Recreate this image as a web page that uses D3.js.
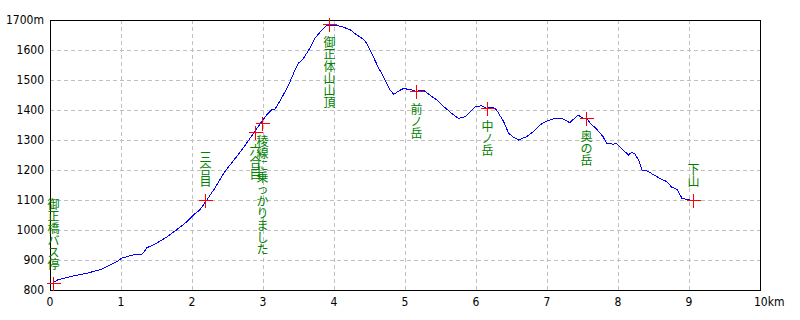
<!DOCTYPE html>
<html><head><meta charset="utf-8">
<script src="https://cdn.jsdelivr.net/npm/d3@7/dist/d3.min.js"></script>
<style>
body{margin:0;background:#fff;}
svg{display:block;}
.num{font-family:"Liberation Sans Narrow","DejaVu Sans Condensed","Liberation Sans",sans-serif;font-size:12px;fill:#000;}
.lbl{font-family:"Noto Sans CJK JP",sans-serif;font-size:12px;fill:#008000;}
</style></head>
<body><svg id="c" width="800" height="320"></svg>
<script>
// profile: distance (km) and elevation (m)
const distKm = [0.03,0.1,0.19,0.35,0.52,0.7,0.82,0.94,1.01,1.17,1.29,1.33,1.36,1.5,1.64,1.78,1.93,2.02,2.11,2.21,
  2.32,2.46,2.61,2.75,2.89,2.98,3.05,3.12,3.17,3.26,3.36,3.45,3.50,3.57,3.66,3.73,3.83,3.90,4.01,4.11,
  4.23,4.32,4.41,4.46,4.53,4.62,4.72,4.79,4.84,4.91,4.98,5.02,5.09,5.16,5.21,5.28,5.35,5.45,5.52,5.63,
  5.75,5.85,5.92,5.99,6.08,6.15,6.24,6.29,6.39,6.46,6.53,6.60,6.71,6.81,6.90,7.00,7.09,7.21,7.32,7.44,
  7.51,7.56,7.61,7.70,7.79,7.84,7.93,7.98,8.07,8.15,8.19,8.24,8.29,8.34,8.41,8.51,8.59,8.69,8.76,8.83,
  8.90,8.97,9.01];
const elevM = [822,833,839,848,856,867,880,894,906,917,919,928,940,956,976,1000,1028,1050,1067,1100,
  1139,1194,1239,1283,1330,1361,1383,1400,1403,1439,1483,1533,1556,1572,1606,1639,1667,1683,1683,1678,
  1667,1650,1637,1622,1589,1544,1500,1467,1452,1463,1472,1470,1467,1461,1467,1463,1450,1433,1417,1394,
  1372,1378,1394,1411,1414,1406,1410,1400,1361,1322,1309,1300,1311,1328,1350,1364,1370,1372,1358,1383,
  1372,1372,1356,1336,1311,1289,1286,1289,1267,1250,1259,1253,1233,1200,1197,1183,1172,1161,1142,1136,
  1106,1102,1100];

// waypoints
const markerNames = ["御正橋バス停","三合目","六合目","稜線に乗っかりました","御正体山山頂","前ノ岳","中ノ岳","奥の岳","下山"];
const markerKm   = [0.04,2.18,2.89,2.99,3.93,5.16,6.15,7.55,9.05];
const markerElev = [822,1100,1327,1357,1686,1464,1406,1372,1100];
const markerSide = ["above","above","below","below","below","below","below","below","above"];

// ticks
const xTicks = [0,1,2,3,4,5,6,7,8,9,10];
const yTicks = [800,900,1000,1100,1200,1300,1400,1500,1600,1700];

const svg = d3.select("#c");
svg.append("rect").attr("width",800).attr("height",320).attr("fill","#fff");
const L=50,R=760,T=20,B=290;
const x = d3.scaleLinear().domain([0,10]).range([L,R]);
const y = d3.scaleLinear().domain([800,1700]).range([B,T]);

// grid
const g = svg.append("g").attr("shape-rendering","crispEdges");
g.selectAll(".vg").data(xTicks.filter(d=>d>0&&d<10)).enter().append("line")
  .attr("x1",d=>x(d)+0.5).attr("x2",d=>x(d)+0.5).attr("y1",T).attr("y2",B)
  .attr("stroke","#c0c0c0").attr("stroke-dasharray","4,3");
g.selectAll(".hg").data(yTicks.filter(d=>d>800&&d<1700)).enter().append("line")
  .attr("y1",d=>y(d)+0.5).attr("y2",d=>y(d)+0.5).attr("x1",L).attr("x2",R)
  .attr("stroke","#c0c0c0").attr("stroke-dasharray","4,3");
g.append("rect").attr("x",L+0.5).attr("y",T+0.5).attr("width",R-L).attr("height",B-T)
  .attr("fill","none").attr("stroke","#000");

// axis labels
svg.selectAll(".yl").data(yTicks).enter().append("text").attr("class","num")
  .attr("x",44).attr("y",d=>y(d)+4).attr("text-anchor","end")
  .text(d=>d===1700? d+"m" : d);
svg.selectAll(".xl").data(xTicks).enter().append("text").attr("class","num")
  .attr("x",d=>d===10? x(d)-6 : x(d)).attr("y",306).attr("text-anchor",d=>d===10?"start":"middle")
  .text(d=>d===10? d+"km" : d);

// profile line
const pts = distKm.map((d,i)=>[d,elevM[i]]);
svg.append("path").datum(pts)
  .attr("d",d3.line().x(d=>x(d[0])).y(d=>y(d[1])))
  .attr("fill","none").attr("stroke","#0000ff").attr("stroke-width",1)
  .attr("shape-rendering","crispEdges");

// markers
const mk = svg.append("g").attr("shape-rendering","crispEdges");
markerNames.forEach((name,i)=>{
  const cx=Math.round(x(markerKm[i]))+0.5, cy=Math.round(y(markerElev[i]))+0.5;
  mk.append("line").attr("x1",cx-7).attr("x2",cx+7).attr("y1",cy).attr("y2",cy).attr("stroke","#ff0000");
  mk.append("line").attr("x1",cx).attr("x2",cx).attr("y1",cy-7).attr("y2",cy+7).attr("stroke","#ff0000");
  const chars = Array.from(name);
  const pitch = 12;
  const top = markerSide[i]==="below" ? cy+12 : cy-13-chars.length*pitch;
  const t = svg.append("text").attr("class","lbl").attr("text-anchor","middle");
  chars.forEach((c,j)=>{
    t.append("tspan").attr("x",cx).attr("y",top+j*pitch+10.5).text(c);
  });
});
</script></body></html>
